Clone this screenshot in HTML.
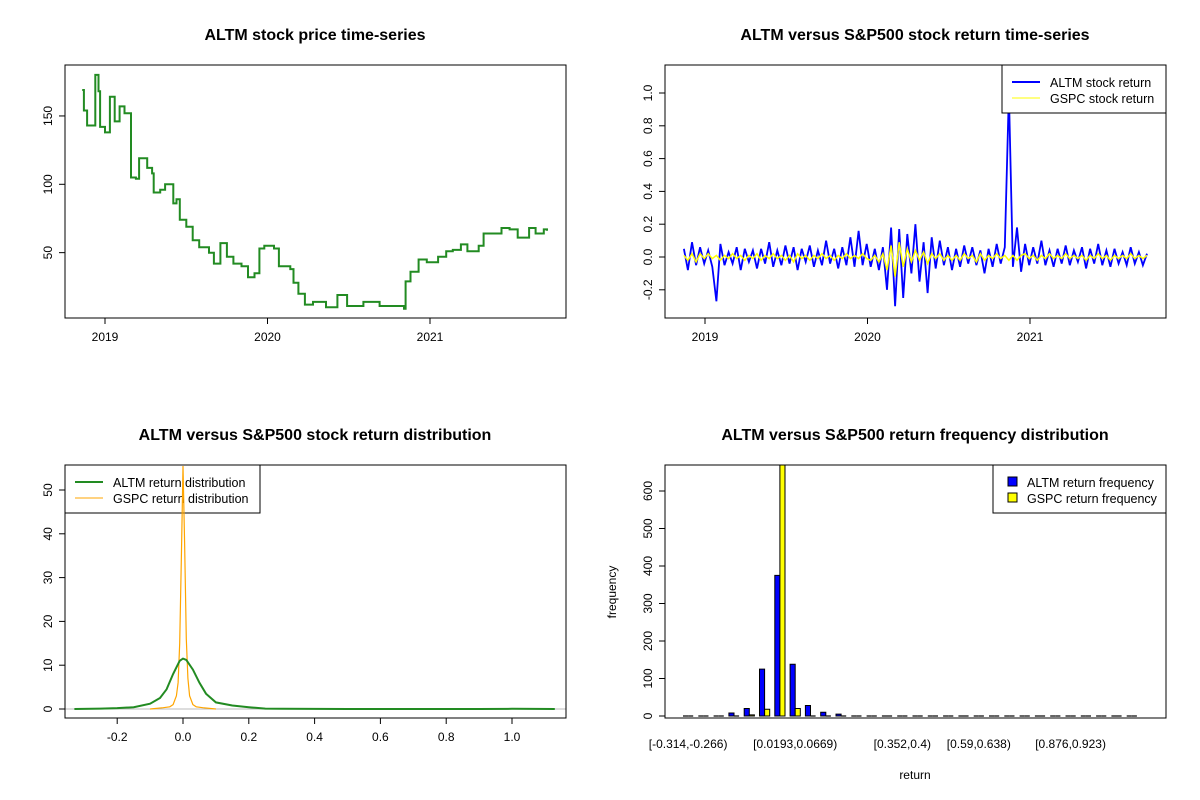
<!DOCTYPE html>
<html><head><meta charset="utf-8"><style>
body{margin:0;background:#fff;}
svg{display:block;font-family:"Liberation Sans",Arial,sans-serif;}
.t{font-weight:bold;font-size:16px;text-anchor:middle;}
.tk{font-size:12px;}
.lg{font-size:12.5px;}
</style></head><body>
<svg id="s" width="1200" height="800" viewBox="0 0 1200 800"></svg>
<script>
// ---- data ----
const priceYears=[2018.86,2018.87,2018.89,2018.92,2018.94,2018.96,2018.97,2019.00,2019.03,2019.06,2019.09,2019.12,2019.15,2019.16,2019.19,2019.21,2019.26,2019.29,2019.30,2019.34,2019.37,2019.42,2019.44,2019.46,2019.50,2019.54,2019.58,2019.64,2019.67,2019.71,2019.75,2019.79,2019.84,2019.88,2019.92,2019.95,2019.98,2020.04,2020.07,2020.14,2020.16,2020.19,2020.23,2020.28,2020.36,2020.43,2020.49,2020.59,2020.69,2020.84,2020.85,2020.88,2020.93,2020.98,2021.05,2021.10,2021.14,2021.19,2021.23,2021.30,2021.33,2021.39,2021.44,2021.49,2021.54,2021.61,2021.65,2021.70,2021.72];
const priceValues=[169,154,143,143,180,168,142,138,164,146,157,152,152,105,104,119,112,108,94,96,100,86,89,74,69,59,54,50,42,57,47,42,40,32,35,53,55,53,40,38,28,20,12,14,10,19,11,14,11,9,29,36,45,43,47,51,52,56,51,55,64,64,68,67,61,68,64,67,66];
const retStart=2018.87, retStep=0.025;
const altmReturns=[0.05,-0.08,0.09,-0.05,0.06,-0.04,
0.04,-0.06,-0.27,0.08,-0.05,0.03,-0.04,0.06,-0.08,0.05,-0.03,0.04,-0.07,0.05,-0.04,0.09,-0.06,0.04,-0.05,0.07,
-0.04,0.06,-0.08,0.05,-0.03,0.07,-0.06,0.04,-0.05,0.1,-0.04,0.05,-0.07,0.06,-0.05,0.12,-0.06,0.16,-0.05,0.08,
-0.06,0.05,-0.08,0.06,-0.2,0.18,-0.3,0.17,-0.25,0.14,-0.1,0.2,-0.15,0.09,-0.22,0.12,-0.07,0.1,-0.05,0.06,
-0.08,0.05,-0.06,0.07,-0.04,0.06,-0.05,0.04,-0.1,0.05,-0.06,0.08,-0.04,0.06,1.0,-0.06,0.18,-0.09,0.08,-0.05,
0.06,-0.04,0.1,-0.05,0.04,-0.06,0.05,-0.04,0.07,-0.05,0.04,-0.03,0.06,-0.07,0.05,-0.04,0.08,-0.05,0.04,-0.06,0.05,-0.04,0.03,-0.05,0.06,-0.04,0.03,-0.05,0.02];
const gspcReturns=[0.01,-0.02,0.02,-0.03,0.02,-0.01,
0.02,-0.01,0.01,-0.02,0.01,-0.01,0.02,-0.01,0.01,-0.02,0.01,-0.01,0.02,-0.02,0.01,-0.01,0.02,-0.01,0.01,-0.02,
0.01,-0.03,0.02,-0.01,0.01,-0.02,0.01,-0.01,0.02,-0.01,0.01,-0.02,0.01,-0.01,0.02,-0.01,0.01,-0.01,0.02,-0.01,
-0.02,0.01,-0.03,0.02,-0.08,0.07,-0.12,0.09,-0.06,0.05,-0.03,0.04,-0.02,0.03,-0.04,0.02,-0.01,0.02,-0.02,0.01,
-0.02,0.01,-0.02,0.02,-0.01,0.01,-0.03,0.02,-0.02,0.01,-0.01,0.02,-0.01,0.01,-0.02,0.01,-0.02,0.01,0.02,-0.01,
0.01,-0.02,0.01,-0.01,0.02,-0.01,0.01,-0.01,0.02,-0.01,0.01,-0.01,0.01,-0.02,0.01,-0.01,0.02,-0.01,0.01,-0.02,0.01,-0.01,0.01,-0.01,0.02,-0.01,0.01,-0.01,0.01];
const densX=[-0.33,-0.25,-0.2,-0.15,-0.1,-0.07,-0.05,-0.03,-0.01,0,0.01,0.03,0.05,0.07,0.1,0.15,0.2,0.25,0.3,0.5,0.9,1.0,1.13];
const altmDens=[0,0.1,0.2,0.4,1.2,2.5,4.5,8,11,11.5,11.2,9,6,3.5,1.5,0.8,0.4,0.1,0.05,0,0,0.05,0];
const gspcDensX=[-0.1,-0.06,-0.04,-0.03,-0.02,-0.015,-0.01,-0.005,0,0.005,0.01,0.015,0.02,0.03,0.04,0.06,0.1];
const gspcDens=[0,0.3,0.5,1,3,6,15,35,60,38,16,7,3,1,0.5,0.3,0];
const binLabels=["[-0.314,-0.266)","[0.0193,0.0669)","[0.352,0.4)","[0.59,0.638)","[0.876,0.923)"];
const binLabelIdx=[0,7,14,19,25];
const altmFreq=[2,2,2,8,20,125,375,138,28,10,5,0,0,0,0,0,0,0,0,0,0,0,0,0,0,0,0,0,0,0];
const gspcFreq=[0,0,1,2,3,18,670,20,2,0,0,0,0,0,0,0,0,0,0,0,0,0,0,0,0,0,0,0,0,0];

const S=document.getElementById('s');const NS='http://www.w3.org/2000/svg';
function el(tag,a,txt){const e=document.createElementNS(NS,tag);for(const k in a)e.setAttribute(k,a[k]);if(txt!==undefined)e.textContent=txt;S.appendChild(e);return e;}
function lin(d0,d1,r0,r1){return v=>r0+(v-d0)*(r1-r0)/(d1-d0);}
function box(x,y,w,h,name){const e=el('rect',{x:x,y:y,width:w,height:h,fill:'none',stroke:'#000','stroke-width':1});}
function title(x,y,t,name){const e=el('text',{x:x,y:y,class:'t'},t);}
function xt(x,y,l,name){el('line',{x1:x,y1:y,x2:x,y2:y+6,stroke:'#000'});const e=el('text',{x:x,y:y+23,class:'tk','text-anchor':'middle'},l);}
function yt(x,y,l,name){el('line',{x1:x,y1:y,x2:x-6,y2:y,stroke:'#000'});const e=el('text',{x:x-13,y:y,class:'tk','text-anchor':'middle',transform:`rotate(-90 ${x-13} ${y})`},l);}
function poly(pts,color,w,name){const e=el('polyline',{points:pts.map(p=>p[0].toFixed(1)+','+p[1].toFixed(1)).join(' '),fill:'none',stroke:color,'stroke-width':w});}

// Panel 1
{const X=lin(2019,2020,105,267.5),Y=lin(0,100,321,184.3);
title(315,40,'ALTM stock price time-series','price-title');
const pts=[];priceYears.forEach((t,i)=>{if(i>0)pts.push([X(t),Y(priceValues[i-1])]);pts.push([X(t),Y(priceValues[i])]);});
poly(pts,'#228B22',2,'price-line');
box(65,65,501,253,'price-plot-box');
[2019,2020,2021].forEach(v=>xt(X(v),318,String(v),'price-x-tick'));
[50,100,150].forEach(v=>yt(65,Y(v),String(v),'price-y-tick'));}

// Panel 2
{const X=lin(2019,2020,705,867.5),Y=lin(0,1,257,93);
title(915,40,'ALTM versus S&P500 stock return time-series','return-title');
poly(altmReturns.map((v,i)=>[X(retStart+i*retStep),Y(v)]),'#0000FF',1.8,'altm-return-line');
poly(gspcReturns.map((v,i)=>[X(retStart+i*retStep),Y(v)]),'#FFFF00',1.5,'gspc-return-line');
box(665,65,501,253,'return-plot-box');
[2019,2020,2021].forEach(v=>xt(X(v),318,String(v),'return-x-tick'));
[-0.2,0,0.2,0.4,0.6,0.8,1.0].forEach(v=>yt(665,Y(v),v.toFixed(1),'return-y-tick'));
const lg=el('rect',{x:1002,y:65,width:164,height:48,fill:'#fff',stroke:'#000'});
el('line',{x1:1012,y1:82,x2:1040,y2:82,stroke:'#0000FF','stroke-width':2});
el('text',{x:1050,y:87,class:'lg'},'ALTM stock return');
el('line',{x1:1012,y1:98,x2:1040,y2:98,stroke:'#FFFF00','stroke-width':1});
el('text',{x:1050,y:103,class:'lg'},'GSPC stock return');}

// Panel 3
{const X=lin(0,1,183,512),Y=lin(0,50,709,490);
title(315,440,'ALTM versus S&P500 stock return distribution','density-title');
el('line',{x1:65,y1:Y(0),x2:566,y2:Y(0),stroke:'#bbb'});
const lg=el('rect',{x:65,y:465,width:195,height:48,fill:'none',stroke:'#000'});
el('line',{x1:75,y1:482,x2:103,y2:482,stroke:'#228B22','stroke-width':2});
el('text',{x:113,y:487,class:'lg'},'ALTM return distribution');
el('line',{x1:75,y1:498,x2:103,y2:498,stroke:'#FFA500','stroke-width':1});
el('text',{x:113,y:503,class:'lg'},'GSPC return distribution');
poly(gspcDensX.map((v,i)=>[X(v),Math.max(466,Y(gspcDens[i]))]),'#FFA500',1.2,'gspc-density-line');
poly(densX.map((v,i)=>[X(v),Y(altmDens[i])]),'#228B22',2,'altm-density-line');
box(65,465,501,253,'density-plot-box');
[-0.2,0,0.2,0.4,0.6,0.8,1.0].forEach(v=>xt(X(v),718,v.toFixed(1),'density-x-tick'));
[0,10,20,30,40,50].forEach(v=>yt(65,Y(v),String(v),'density-y-tick'));}

// Panel 4
{const Y=lin(0,600,716,491);const g0=683,gw=15.3,bw=5.1;
title(915,440,'ALTM versus S&P500 return frequency distribution','freq-title');
function bar(x,v,fill,name){const top=Math.max(465,Y(v));
 if(Y(0)-top<1){const l=el('line',{x1:x,y1:Y(0),x2:x+bw,y2:Y(0),stroke:'#000','stroke-width':1.2});return;}
 const r=el('rect',{x:x,y:top,width:bw,height:Y(0)-top,fill:fill,stroke:'#000','stroke-width':1});}
altmFreq.forEach((v,i)=>bar(g0+i*gw,v,'#0000FF','altm-freq-bar'));
gspcFreq.forEach((v,i)=>bar(g0+i*gw+bw,v,'#FFFF00','gspc-freq-bar'));
box(665,465,501,253,'freq-plot-box');
binLabelIdx.forEach((b,j)=>{const e=el('text',{x:g0+b*gw+bw,y:748,class:'tk','text-anchor':'middle'},binLabels[j]);});
[0,100,200,300,400,500,600].forEach(v=>yt(665,Y(v),String(v),'freq-y-tick'));
const xl=el('text',{x:915,y:779,class:'tk','text-anchor':'middle'},'return');
const yl=el('text',{x:616,y:592,class:'tk','text-anchor':'middle',transform:'rotate(-90 616 592)'},'frequency');
const lg=el('rect',{x:993,y:465,width:173,height:48,fill:'#fff',stroke:'#000'});
el('rect',{x:1008,y:477,width:9,height:9,fill:'#0000FF',stroke:'#000'});
el('text',{x:1027,y:487,class:'lg'},'ALTM return frequency');
el('rect',{x:1008,y:493,width:9,height:9,fill:'#FFFF00',stroke:'#000'});
el('text',{x:1027,y:503,class:'lg'},'GSPC return frequency');}
</script>
</body></html>
